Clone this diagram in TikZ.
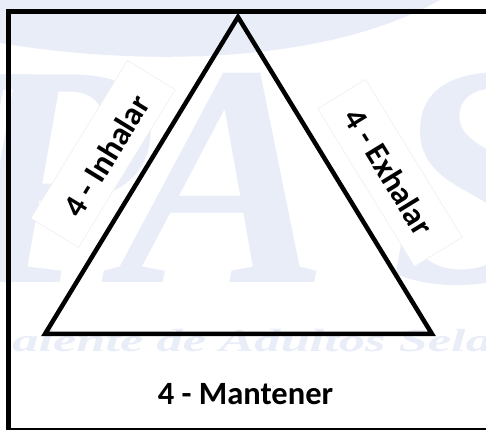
\documentclass[tikz,border=0pt]{standalone}
\usepackage{fontspec}
\setmainfont{Carlito}
\newfontfamily\wmfont{Liberation Serif}
\definecolor{wm}{RGB}{232,237,248}
\begin{document}
\begin{tikzpicture}[x=1pt,y=1pt,
  wmbig/.style={text=wm,inner sep=0,anchor=base west,
    font=\wmfont\bfseries\itshape\fontsize{317}{317}\selectfont},
  wmline/.style={text=wm,inner sep=0,anchor=base west,xscale=1.64,
    font=\wmfont\bfseries\itshape\fontsize{32}{32}\selectfont},
  labelbox/.style={fill=white,draw=black!7,line width=0.5pt,
    minimum width=185pt,minimum height=56pt,inner sep=0},
  labeltext/.style={inner sep=0,text=black,
    font=\bfseries\fontsize{32.5}{32.5}\selectfont},
  tri/.style={line width=4.5pt,line join=miter},
  frame/.style={line width=5pt}]
\useasboundingbox (0,0) rectangle (486,430);
\fill[white] (0,0) rectangle (486,430);
% watermark
\begin{scope}
\clip (0,0) rectangle (486,430);
\fill[wm] (0,430) -- (0,387) .. controls (150,362) and (330,368) .. (440,430) -- cycle;
\node[wmbig,anchor=base east] (wmI) at (24,147) {I};
\node[wmbig] (wmP) at (-45,147) {P};
\node[wmbig] (wmA) at (118,147) {A};
\node[wmbig] (wmS) at (390,147) {S};
\node[wmline] (wmtext) at (12,78) {alente de Adultos Sela};
\end{scope}
% label boxes
\node[labelbox,rotate=58.5] (inbox) at (103,276) {};
\node[labelbox,rotate=-58.5] (exbox) at (390,257) {};
% triangle
\coordinate (apex) at (238,413);
\coordinate (bl) at (45,96);
\coordinate (br) at (432,96);
\draw[tri] (apex) -- (bl) -- (br) -- cycle;
% labels
\node[labeltext,rotate=58.5] (inhalar) at (106,274) {4 - Inhalar};
\node[labeltext,rotate=-58.5] (exhalar) at (389,258) {4 - Exhalar};
\node[labeltext,anchor=base] (mantener) at (245.5,25) {4 - Mantener};
% frame
\coordinate (ftr) at (490,418);
\coordinate (ftl) at (8.5,418);
\coordinate (fbl) at (8.5,0);
\coordinate (fbr) at (490,1);
\draw[frame] (ftr) -- (ftl) -- (fbl);
\draw[line width=2.2pt] (6,1) -- (fbr);
\end{tikzpicture}
\end{document}
